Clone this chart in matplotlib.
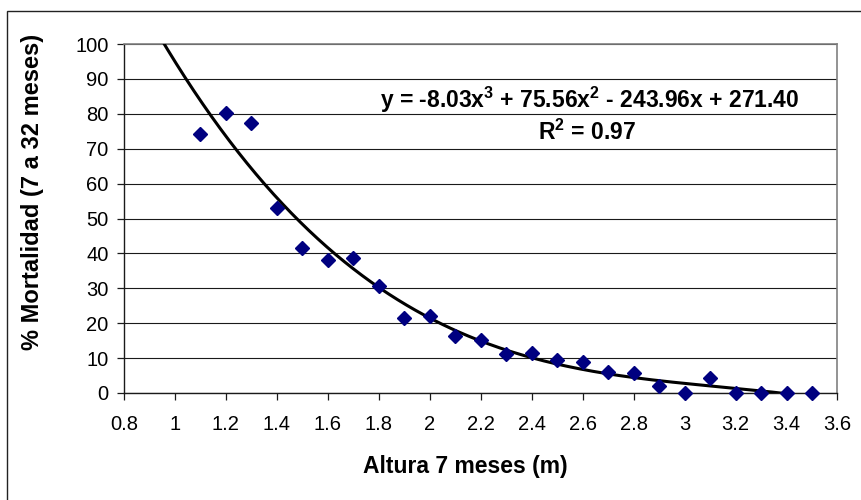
import numpy as np
import matplotlib
matplotlib.use("Agg")
import matplotlib.pyplot as plt
from matplotlib.patches import Rectangle

# ---- data ----
altura = [1.1, 1.2, 1.3, 1.4, 1.5, 1.6, 1.7, 1.8, 1.9, 2.0, 2.1, 2.2, 2.3,
          2.4, 2.5, 2.6, 2.7, 2.8, 2.9, 3.0, 3.1, 3.2, 3.3, 3.4, 3.5]
mortalidad = [74.2, 80.3, 77.5, 53.0, 41.5, 38.1, 38.6, 30.7, 21.6, 22.2,
              16.3, 15.2, 11.2, 11.5, 9.5, 9.0, 6.1, 5.7, 2.0, 0.0, 4.4,
              0.0, 0.0, 0.0, 0.0]
coefs = [-8.03, 75.56, -243.96, 271.40]   # cubic trend line
trend_range = [0.9, 3.5]
x_ticks = [0.8, 1.0, 1.2, 1.4, 1.6, 1.8, 2.0, 2.2, 2.4, 2.6, 2.8, 3.0, 3.2, 3.4, 3.6]
x_tick_labels = ["0.8", "1", "1.2", "1.4", "1.6", "1.8", "2", "2.2", "2.4",
                 "2.6", "2.8", "3", "3.2", "3.4", "3.6"]
y_ticks = [0, 10, 20, 30, 40, 50, 60, 70, 80, 90, 100]
eq_text = (r"y = -8.03x$^{\mathbf{3}}$ + 75.56x$^{\mathbf{2}}$ - 243.96x + 271.40")
r2_text = r"R$^{\mathbf{2}}$ = 0.97"
xlabel = "Altura 7 meses (m)"
ylabel = "% Mortalidad (7 a 32 meses)"

plt.rcParams['font.family'] = ['Liberation Sans', 'DejaVu Sans']
plt.rcParams['mathtext.fontset'] = 'custom'
plt.rcParams['mathtext.rm'] = 'Liberation Sans'
plt.rcParams['mathtext.bf'] = 'Liberation Sans:bold'

fig = plt.figure(figsize=(8.62, 5.0), dpi=100)
W, H = 862, 500
ax = fig.add_axes([124 / W, 1 - 393 / H, (837.5 - 124) / W, (393 - 44) / H])

# figure border
fig.patches.append(Rectangle((7 / W, 0 - 0.05), 1.1, 1 - 11 / H + 0.05,
                             transform=fig.transFigure, fill=False,
                             edgecolor='#222222', linewidth=1.0))

ax.set_xlim(0.8, 3.6)
ax.set_ylim(0, 100)
ax.set_xticks(x_ticks)
ax.set_xticklabels(x_tick_labels)
ax.set_yticks(y_ticks)

ax.yaxis.grid(True, color='#1a1a1a', linewidth=0.8)
ax.set_axisbelow(True)

xs = np.linspace(trend_range[0], trend_range[1], 300)
ys = np.polyval(coefs, xs)
ax.plot(xs, ys, color='black', linewidth=2.2, zorder=3)

ax.plot(altura, mortalidad, linestyle='none', marker='D', markersize=6.8,
        color='#000080', markeredgecolor='#000080', zorder=4, clip_on=False)

for s in ['top', 'right']:
    ax.spines[s].set_color('#808080')
    ax.spines[s].set_linewidth(1.2)
for s in ['left', 'bottom']:
    ax.spines[s].set_color('#1a1a1a')
    ax.spines[s].set_linewidth(1.0)

ax.tick_params(axis='both', direction='out', length=5, width=0.9,
               color='#1a1a1a', labelsize=14.5)
ax.tick_params(axis='x', pad=11)
ax.tick_params(axis='y', pad=6)

fig.text(465 / W, 1 - 466 / H, xlabel, ha='center', va='center',
         fontsize=16.5, fontweight='bold')
fig.text(33 / W, 1 - 192 / H, ylabel, ha='center', va='center',
         rotation=90, fontsize=17, fontweight='bold')

fig.text(590 / W, 1 - 100 / H, eq_text, ha='center', va='center',
         fontsize=16.5, fontweight='bold')
fig.text(587 / W, 1 - 132 / H, r2_text, ha='center', va='center',
         fontsize=16.5, fontweight='bold')

fig.savefig("out.png", dpi=100)
